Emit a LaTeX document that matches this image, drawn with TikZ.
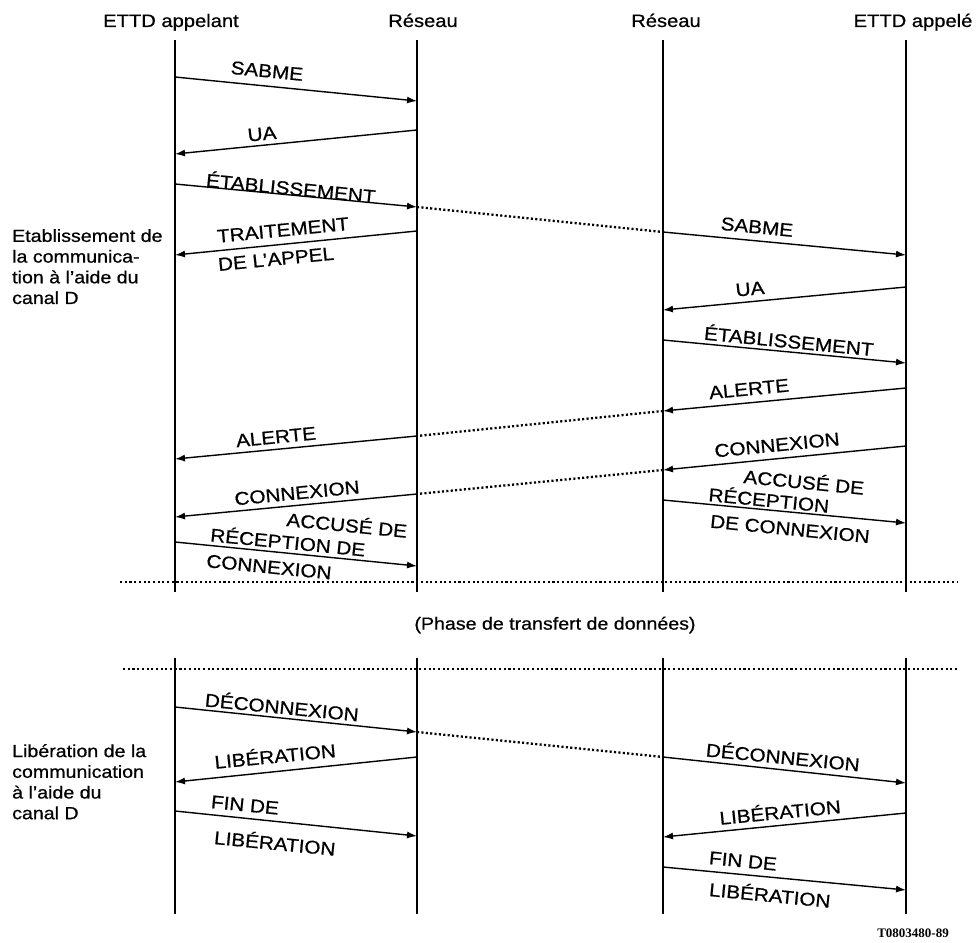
\documentclass[tikz,border=0pt]{standalone}
\usepackage{fontspec}
\setmainfont[FakeStretch=1.12,FakeBold=0.7]{Liberation Sans}
\newfontfamily\refserif{Liberation Serif}
\usetikzlibrary{arrows.meta}
\begin{document}
\begin{tikzpicture}[x=1pt,y=-1pt,
  life/.style={line width=1.8pt},
  msg/.style={line width=1.4pt,-{Latex[length=10pt,width=7pt]}},
  relay/.style={line width=2.3pt,dash pattern=on 2.1pt off 2.3pt},
  phase/.style={line width=2.3pt,dash pattern=on 2.1pt off 2.6pt},
  lbl/.style={font=\fontsize{18.5}{20}\selectfont,inner sep=0pt},
  head/.style={font=\fontsize{18}{20}\selectfont,inner sep=0pt,anchor=base},
  side/.style={font=\fontsize{17.5}{20.7}\selectfont,align=left,anchor=north west,inner sep=0pt},
  up/.style={rotate=5.6},
  down/.style={rotate=-5.6}]
\useasboundingbox (0,0) rectangle (979,942);

% ---- column headings
\node[head] (hA) at (171,27) {ETTD appelant};
\node[head] (hB) at (423,27) {Réseau};
\node[head] (hC) at (666,27) {Réseau};
\node[head] (hD) at (913,27) {ETTD appelé};

% ---- lifelines, set-up phase
\coordinate (A1) at (175,40);  \coordinate (A2) at (175,592);
\coordinate (B1) at (417,40);  \coordinate (B2) at (417,592);
\coordinate (C1) at (663,40);  \coordinate (C2) at (663,592);
\coordinate (D1) at (906,40);  \coordinate (D2) at (906,592);
\draw[life] (A1) -- (A2); \draw[life] (B1) -- (B2);
\draw[life] (C1) -- (C2); \draw[life] (D1) -- (D2);

% ---- lifelines, clearing phase
\coordinate (A3) at (175,658); \coordinate (A4) at (175,914);
\coordinate (B3) at (417,658); \coordinate (B4) at (417,914);
\coordinate (C3) at (663,658); \coordinate (C4) at (663,914);
\coordinate (D3) at (906,658); \coordinate (D4) at (906,914);
\draw[life] (A3) -- (A4); \draw[life] (B3) -- (B4);
\draw[life] (C3) -- (C4); \draw[life] (D3) -- (D4);

% ---- call set-up, calling side
\coordinate (s1a) at (175,77);  \coordinate (s1b) at (417,101);
\draw[msg] (s1a) -- (s1b);
\node[lbl,down] (t1) at (267,71) {SABME};

\coordinate (s2a) at (417,130); \coordinate (s2b) at (175,154);
\draw[msg] (s2a) -- (s2b);
\node[lbl,up] (t2) at (262,134) {UA};

\coordinate (s3a) at (175,184); \coordinate (s3b) at (417,207);
\draw[msg] (s3a) -- (s3b);
\node[lbl,down] (t3) at (291,187) {ÉTABLISSEMENT};

\coordinate (s4a) at (417,231); \coordinate (s4b) at (175,255);
\draw[msg] (s4a) -- (s4b);
\node[lbl,up] (t4a) at (283,230) {TRAITEMENT};
\node[lbl,up] (t4b) at (276,259) {DE L'APPEL};

% ---- call set-up, called side
\coordinate (r1a) at (663,232); \coordinate (r1b) at (906,255);
\draw[relay] (s3b) -- (r1a);
\draw[msg] (r1a) -- (r1b);
\node[lbl,down] (u1) at (757,227) {SABME};

\coordinate (r2a) at (906,287); \coordinate (r2b) at (663,310);
\draw[msg] (r2a) -- (r2b);
\node[lbl,up] (u2) at (750,289) {UA};

\coordinate (r3a) at (663,340); \coordinate (r3b) at (906,363);
\draw[msg] (r3a) -- (r3b);
\node[lbl,down] (u3) at (789,340) {ÉTABLISSEMENT};

\coordinate (r4a) at (906,388); \coordinate (r4b) at (663,411);
\draw[msg] (r4a) -- (r4b);
\node[lbl,up] (u4) at (749,389) {ALERTE};

\coordinate (r5a) at (906,446); \coordinate (r5b) at (663,470);
\draw[msg] (r5a) -- (r5b);
\node[lbl,up] (u5) at (777,445) {CONNEXION};

\coordinate (r6a) at (663,500); \coordinate (r6b) at (906,523);
\draw[msg] (r6a) -- (r6b);
\node[lbl,down] (u6a) at (804,481) {ACCUSÉ DE};
\node[lbl,down] (u6b) at (769,499) {RÉCEPTION};
\node[lbl,down] (u6c) at (790,529) {DE CONNEXION};

% ---- alerting and connect, relayed back to the calling side
\coordinate (s5a) at (417,436); \coordinate (s5b) at (175,459);
\draw[relay] (r4b) -- (s5a);
\draw[msg] (s5a) -- (s5b);
\node[lbl,up] (t5) at (276,437) {ALERTE};

\coordinate (s6a) at (417,494); \coordinate (s6b) at (175,517);
\draw[relay] (r5b) -- (s6a);
\draw[msg] (s6a) -- (s6b);
\node[lbl,up] (t6) at (297,493) {CONNEXION};

\coordinate (s7a) at (175,542); \coordinate (s7b) at (417,566);
\draw[msg] (s7a) -- (s7b);
\node[lbl,down] (t7a) at (347,524) {ACCUSÉ DE};
\node[lbl,down] (t7b) at (288,541) {RÉCEPTION DE};
\node[lbl,down] (t7c) at (269,567) {CONNEXION};

% ---- data transfer phase
\coordinate (p1a) at (120,582); \coordinate (p1b) at (957,582);
\draw[phase] (p1a) -- (p1b);
\node[lbl,font=\fontsize{17.5}{20}\selectfont] (ph) at (555,625) {(Phase de transfert de données)};
\coordinate (p2a) at (123,669); \coordinate (p2b) at (957,669);
\draw[phase] (p2a) -- (p2b);

% ---- call clearing
\coordinate (c1a) at (175,707); \coordinate (c1b) at (417,732);
\draw[msg] (c1a) -- (c1b);
\node[lbl,down] (v1) at (282,706) {DÉCONNEXION};

\coordinate (c2a) at (417,757); \coordinate (c2b) at (175,782);
\draw[msg] (c2a) -- (c2b);
\node[lbl,up] (v2) at (275,755) {LIBÉRATION};

\coordinate (c3a) at (175,811); \coordinate (c3b) at (417,836);
\draw[msg] (c3a) -- (c3b);
\node[lbl,down] (v3a) at (245,805) {FIN DE};
\node[lbl,down] (v3b) at (275,842) {LIBÉRATION};

\coordinate (d1a) at (663,757); \coordinate (d1b) at (906,783);
\draw[relay] (c1b) -- (d1a);
\draw[msg] (d1a) -- (d1b);
\node[lbl,down] (w1) at (783,756) {DÉCONNEXION};

\coordinate (d2a) at (906,813); \coordinate (d2b) at (663,837);
\draw[msg] (d2a) -- (d2b);
\node[lbl,up] (w2) at (780,811) {LIBÉRATION};

\coordinate (d3a) at (663,867); \coordinate (d3b) at (906,890);
\draw[msg] (d3a) -- (d3b);
\node[lbl,down] (w3a) at (743,861) {FIN DE};
\node[lbl,down] (w3b) at (770,894) {LIBÉRATION};

% ---- phase notes on the left
\node[side] (n1) at (12,229) {Etablissement de\\la communica-\\tion à l'aide du\\canal D};
\node[side] (n2) at (12,744) {Libération de la\\communication\\à l'aide du\\canal D};

% ---- figure reference
\node[inner sep=0pt,font=\refserif\bfseries\fontsize{13}{14}\selectfont] (ref) at (913,933) {T0803480-89};
\end{tikzpicture}
\end{document}
